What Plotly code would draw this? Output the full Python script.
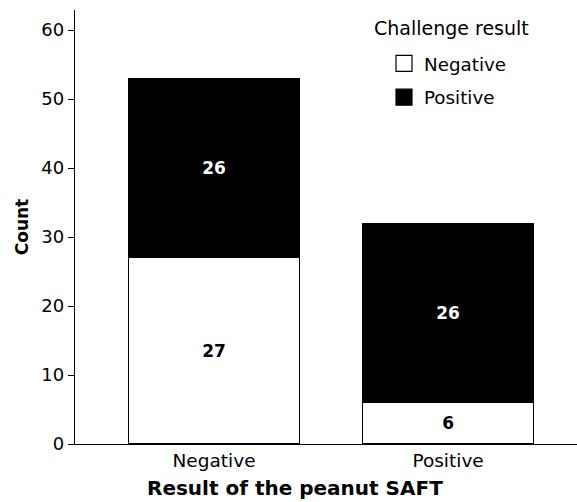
import plotly.graph_objects as go

categories = ["Negative", "Positive"]
challenge_negative = [27, 6]
challenge_positive = [26, 26]
series_names = ["Negative", "Positive"]
legend_title = "Challenge result"
x_title = "Result of the peanut SAFT"
y_title = "Count"

FONT = "DejaVu Sans, sans-serif"

fig = go.Figure()
fig.add_trace(go.Bar(
    x=categories, y=challenge_negative, name=series_names[0],
    marker=dict(color="white", line=dict(color="black", width=1.3)),
    text=[str(v) for v in challenge_negative], textposition="inside",
    insidetextanchor="middle",
    textfont=dict(family=FONT, size=17, color="black", weight="bold"),
    width=0.73, showlegend=False, hoverinfo="skip",
))
fig.add_trace(go.Bar(
    x=categories, y=challenge_positive, name=series_names[1],
    marker=dict(color="black", line=dict(color="black", width=1.3)),
    text=[str(v) for v in challenge_positive], textposition="inside",
    insidetextanchor="middle",
    textfont=dict(family=FONT, size=17, color="white", weight="bold"),
    width=0.73, showlegend=False, hoverinfo="skip",
))
# legend entries
for name, col, grp in [(series_names[0], "white", "a"), (series_names[1], "black", "b")]:
    fig.add_trace(go.Scatter(
        x=[None], y=[None], mode="markers", name=name, legendgroup=grp,
        marker=dict(symbol="square", size=18, color=col, line=dict(color="black", width=1.2)),
    ))

fig.update_layout(
    width=577, height=502,
    barmode="stack",
    plot_bgcolor="white", paper_bgcolor="white",
    margin=dict(l=75, r=0, t=10, b=58, autoexpand=False),
    font=dict(family=FONT, size=18, color="black"),
    showlegend=True,
    legend=dict(
        traceorder="grouped",
        tracegroupgap=7,
        x=(384 - 75) / 502, y=(444 - 45) / 434, xanchor="left", yanchor="top",
        bgcolor="rgba(0,0,0,0)",
        font=dict(size=18.3),
        itemsizing="trace",
    ),
    xaxis=dict(
        range=[-0.594, 1.551],
        showline=True, linecolor="black", linewidth=1.3,
        ticks="", showgrid=False, zeroline=False,
        tickfont=dict(size=18.5),
    ),
    yaxis=dict(
        range=[0, 62.9],
        tickvals=[0, 10, 20, 30, 40, 50, 60],
        showline=True, linecolor="black", linewidth=1.3,
        ticks="outside", ticklen=6, tickcolor="black", tickwidth=1.3,
        showgrid=False, zeroline=False,
        title=dict(text="<b>" + y_title + "</b>", font=dict(size=17), standoff=8),
        tickfont=dict(size=18),
    ),
    annotations=[
        dict(text=legend_title, xref="paper", yref="paper",
             x=(372 - 75) / 502, y=(444 - 28) / 434, xanchor="left", yanchor="middle",
             showarrow=False, font=dict(size=19)),
        dict(text="<b>" + x_title + "</b>", xref="paper", yref="paper",
             x=(295 - 75) / 502, y=-(502 - 444) / 434, xanchor="center", yanchor="bottom",
             showarrow=False, font=dict(size=20)),
    ],
)

fig.write_html("out.html", post_script="document.body.style.margin='0';",
               config={"displayModeBar": False})
